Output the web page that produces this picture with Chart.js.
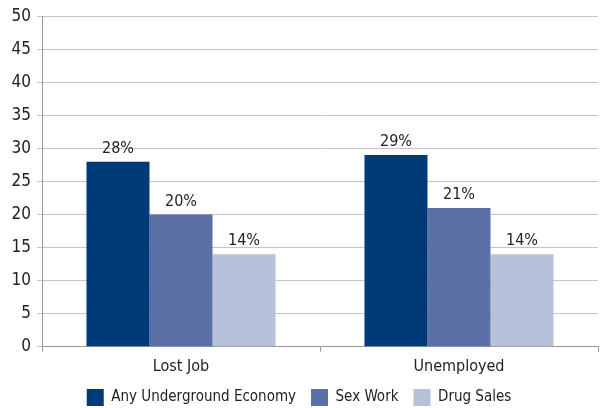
<!DOCTYPE html>
<html>
<head>
<meta charset="utf-8">
<script src="https://cdn.jsdelivr.net/npm/chart.js@4/dist/chart.umd.min.js"></script>
<style>
  html, body { margin: 0; padding: 0; background: #fff; }
  #wrap { width: 600px; height: 408px; }
</style>
</head>
<body>
<div id="wrap"><canvas id="chart" width="600" height="408"></canvas></div>
<script>
const categories = ['Lost Job', 'Unemployed'];
const anyUnderground = [28, 29];
const sexWork = [20, 21];
const drugSales = [14, 14];

const FONT = '"Liberation Sans Narrow", "DejaVu Sans Condensed", "Liberation Sans", sans-serif';

// draws the "28%" style labels above each bar
const barLabels = {
    id: 'barLabels',
    afterDatasetsDraw(chart) {
        const ctx = chart.ctx;
        ctx.save();
        ctx.font = '16px ' + FONT;
        ctx.fillStyle = '#222';
        ctx.textAlign = 'center';
        ctx.textBaseline = 'bottom';
        chart.data.datasets.forEach((ds, i) => {
            chart.getDatasetMeta(i).data.forEach((bar, j) => {
                ctx.fillText(ds.data[j] + '%', bar.x, bar.y - 5);
            });
        });
        ctx.restore();
    }
};

new Chart(document.getElementById('chart'), {
    type: 'bar',
    data: {
        labels: categories,
        datasets: [
            { label: 'Any Underground Economy', data: anyUnderground, backgroundColor: '#003a78' },
            { label: 'Sex Work', data: sexWork, backgroundColor: '#5a70a6' },
            { label: 'Drug Sales', data: drugSales, backgroundColor: '#b8c1da' }
        ]
    },
    options: {
        responsive: false,
        animation: false,
        devicePixelRatio: 1,
        layout: { padding: { top: 8, right: 2, left: 0, bottom: -8 } },
        datasets: { bar: { categoryPercentage: 0.68, barPercentage: 1 } },
        plugins: {
            tooltip: { enabled: false },
            legend: {
                position: 'bottom',
                labels: {
                    font: { family: FONT, size: 15 },
                    color: '#222',
                    boxWidth: 17,
                    boxHeight: 17,
                    padding: 15
                }
            }
        },
        scales: {
            x: {
                grid: { display: true, drawOnChartArea: false, color: '#999', tickLength: 5 },
                border: { color: '#999' },
                ticks: { font: { family: FONT, size: 16 }, color: '#222', padding: 5 },
                afterFit(scale) { scale.height -= 7; }
            },
            y: {
                min: 0,
                max: 50,
                ticks: { stepSize: 5, font: { family: FONT, size: 17 }, color: '#222', padding: 6 },
                grid: { color: '#c4c4c4', tickLength: 5 },
                border: { color: '#999' },
                afterFit(scale) { scale.width = 42; }
            }
        }
    },
    plugins: [barLabels]
});
</script>
</body>
</html>
